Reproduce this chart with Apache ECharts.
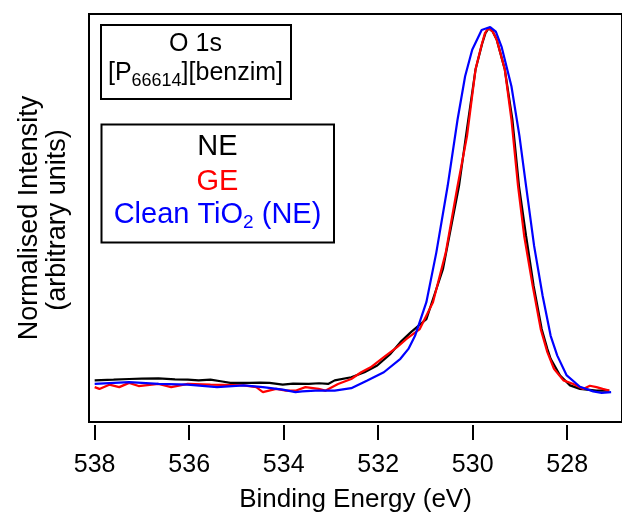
<!DOCTYPE html>
<html>
<head>
<meta charset="utf-8">
<script src="https://cdn.jsdelivr.net/npm/echarts@6/dist/echarts.min.js"></script>
<style>
html,body{margin:0;padding:0;background:#fff;}
#chart{width:622px;height:518px;}
</style>
</head>
<body>
<div id="chart"></div>
<script>
// ---- Data ----
const tickValues = [538, 536, 534, 532, 530, 528];

const neEnergy = [538.00, 537.60, 537.27, 537.00, 536.65, 536.30, 536.03, 535.80, 535.55, 535.30, 535.13, 534.72, 534.50, 534.30, 534.02, 533.80, 533.47, 533.25, 533.06, 532.92, 532.57, 532.29, 532.02, 531.74, 531.53, 531.30, 530.98, 530.63, 530.29, 530.12, 529.94, 529.80, 529.73, 529.66, 529.58, 529.49, 529.32, 529.16, 529.02, 528.87, 528.71, 528.54, 528.42, 528.35, 528.15, 527.94, 527.73, 527.38, 527.11];
const neIntensity = [0.004, 0.006, 0.008, 0.009, 0.010, 0.007, 0.006, 0.004, 0.006, 0.001, -0.003, -0.003, -0.002, -0.003, -0.008, -0.005, -0.006, -0.004, -0.006, 0.004, 0.013, 0.027, 0.046, 0.079, 0.112, 0.141, 0.177, 0.318, 0.553, 0.715, 0.882, 0.955, 0.985, 0.999, 0.990, 0.966, 0.882, 0.741, 0.553, 0.412, 0.271, 0.149, 0.093, 0.065, 0.018, -0.010, -0.020, -0.025, -0.025];

const geEnergy = [538.00, 537.90, 537.69, 537.48, 537.27, 537.07, 536.65, 536.38, 536.03, 535.55, 534.85, 534.58, 534.44, 534.16, 533.95, 533.75, 533.54, 533.26, 533.12, 532.85, 532.57, 532.36, 532.16, 531.88, 531.60, 531.40, 531.12, 530.84, 530.57, 530.32, 530.12, 529.94, 529.81, 529.74, 529.67, 529.58, 529.49, 529.32, 529.18, 529.04, 528.91, 528.73, 528.56, 528.42, 528.28, 528.08, 527.87, 527.66, 527.52, 527.38, 527.25, 527.11];
const geIntensity = [-0.015, -0.020, -0.008, -0.015, -0.003, -0.012, -0.006, -0.015, -0.006, -0.008, -0.010, -0.015, -0.029, -0.020, -0.025, -0.025, -0.015, -0.020, -0.025, -0.006, 0.008, 0.027, 0.041, 0.070, 0.098, 0.121, 0.149, 0.225, 0.365, 0.553, 0.694, 0.882, 0.952, 0.985, 0.999, 0.990, 0.966, 0.882, 0.741, 0.553, 0.412, 0.271, 0.149, 0.084, 0.037, 0.004, -0.006, -0.020, -0.011, -0.015, -0.020, -0.025];

const cleanEnergy = [538.00, 537.27, 536.65, 536.03, 535.41, 534.85, 534.44, 534.02, 533.75, 533.61, 533.33, 532.92, 532.57, 532.23, 531.88, 531.53, 531.36, 531.22, 530.98, 530.77, 530.53, 530.32, 530.16, 530.01, 529.81, 529.72, 529.63, 529.51, 529.39, 529.18, 529.01, 528.87, 528.70, 528.52, 528.35, 528.21, 528.01, 527.73, 527.45, 527.27, 527.07];
const cleanIntensity = [-0.006, -0.001, -0.006, -0.008, -0.015, -0.010, -0.015, -0.022, -0.029, -0.027, -0.025, -0.025, -0.018, 0.004, 0.027, 0.065, 0.093, 0.130, 0.225, 0.365, 0.553, 0.741, 0.863, 0.938, 0.994, 0.998, 1.002, 0.989, 0.947, 0.835, 0.694, 0.553, 0.384, 0.243, 0.130, 0.074, 0.018, -0.014, -0.027, -0.031, -0.029];

const seriesNames = ['NE', 'GE', 'Clean TiO2 (NE)'];
const seriesColors = ['#000000', '#ff0000', '#0000ff'];

// ---- Build ----
const FONT = '"Liberation Sans", Arial, Helvetica, sans-serif';
function zip(xs, ys) { return xs.map((x, i) => [x, ys[i]]); }
const allData = [zip(neEnergy, neIntensity), zip(geEnergy, geIntensity), zip(cleanEnergy, cleanIntensity)];

const chart = echarts.init(document.getElementById('chart'), null, {renderer: 'canvas'});

const option = {
  animation: false,
  backgroundColor: '#ffffff',
  grid: {
    left: 89, top: 14, right: -12, bottom: 94.7,
    show: true, borderColor: '#000', borderWidth: 2, backgroundColor: 'transparent'
  },
  xAxis: {
    type: 'value', inverse: true, min: 526.84, max: 538.12,
    offset: 3,
    axisLine: {show: false, onZero: false},
    axisTick: {show: true, inside: false, customValues: tickValues, length: 15, lineStyle: {color: '#000', width: 2}},
    axisLabel: {customValues: tickValues, fontSize: 25, color: '#000', fontFamily: FONT, margin: 28},
    splitLine: {show: false},
    name: 'Binding Energy (eV)', nameLocation: 'middle', nameGap: 62,
    nameTextStyle: {fontSize: 26, color: '#000', fontFamily: FONT}
  },
  yAxis: {
    type: 'value', min: -0.1135, max: 1.039, show: false, splitLine: {show: false}
  },
  series: allData.map((d, i) => ({
    name: seriesNames[i], type: 'line', data: d, showSymbol: false, symbol: 'none',
    lineStyle: {color: seriesColors[i], width: 2.2}, itemStyle: {color: seriesColors[i]},
    z: 2 + i, clip: true
  })),
  graphic: [
    {type: 'text', rotation: Math.PI / 2, x: 30, y: 218,
     style: {text: 'Normalised Intensity', font: '27px ' + FONT, fill: '#000', align: 'center', verticalAlign: 'middle'}},
    {type: 'text', rotation: Math.PI / 2, x: 58, y: 220,
     style: {text: '(arbitrary units)', font: '27px ' + FONT, fill: '#000', align: 'center', verticalAlign: 'middle'}},
    {type: 'rect', shape: {x: 101, y: 25, width: 190, height: 74},
     style: {fill: '#fff', stroke: '#000', lineWidth: 2}, z: 10},
    {type: 'text', x: 195.5, y: 44, z: 11,
     style: {text: 'O 1s', font: '25px ' + FONT, fill: '#000', align: 'center', verticalAlign: 'middle'}},
    {type: 'text', x: 195.5, y: 73, z: 11,
     style: {text: '{m|[P}{s|66614}{m|][benzim]}', fill: '#000', align: 'center', verticalAlign: 'middle',
       rich: {
         m: {fontSize: 25, fontFamily: FONT, fill: '#000', lineHeight: 34, verticalAlign: 'middle'},
         s: {fontSize: 18, fontFamily: FONT, fill: '#000', lineHeight: 14, verticalAlign: 'bottom'}
       }}},
    {type: 'rect', shape: {x: 101.5, y: 124.5, width: 232.5, height: 118},
     style: {fill: '#fff', stroke: '#000', lineWidth: 2}, z: 10},
    {type: 'text', x: 217.5, y: 147, z: 11,
     style: {text: 'NE', font: '29px ' + FONT, fill: seriesColors[0], align: 'center', verticalAlign: 'middle'}},
    {type: 'text', x: 217.5, y: 181.5, z: 11,
     style: {text: 'GE', font: '29px ' + FONT, fill: seriesColors[1], align: 'center', verticalAlign: 'middle'}},
    {type: 'text', x: 217.5, y: 215, z: 11,
     style: {text: '{m|Clean TiO}{s|2}{m| (NE)}', fill: seriesColors[2], align: 'center', verticalAlign: 'middle',
       rich: {
         m: {fontSize: 29, fontFamily: FONT, fill: seriesColors[2], lineHeight: 34, verticalAlign: 'middle'},
         s: {fontSize: 19, fontFamily: FONT, fill: seriesColors[2], lineHeight: 18, verticalAlign: 'bottom'}
       }}}
  ]
};
chart.setOption(option);
</script>
</body>
</html>
